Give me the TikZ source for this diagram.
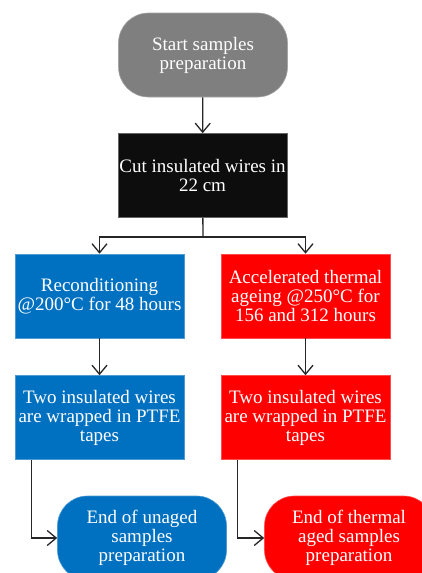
\documentclass[tikz,border=0pt]{standalone}
\usepackage{fontspec}
\setmainfont{Liberation Serif}
\usetikzlibrary{arrows.meta}

\definecolor{startgray}{HTML}{7F7F7F}
\definecolor{cutblack}{HTML}{0D0D0D}
\definecolor{unagedblue}{HTML}{0070C0}
\definecolor{agedred}{HTML}{FF0000}

\begin{document}
\begin{tikzpicture}[x=1pt, y=-1pt,
  box/.style={rectangle, minimum width=169pt, minimum height=84pt, inner sep=0pt,
    align=center, text=white, line width=0.6pt,
    font=\fontsize{19}{19}\selectfont},
  pill/.style={box, rounded corners=30pt},
  arr/.style={-{Straight Barb[length=9pt,width=15pt]}, line width=1.3pt, draw=black!85}]
\useasboundingbox (0,0) rectangle (422,573);
\clip (0,0) rectangle (422,573);
\node[pill, fill=startgray, draw=startgray!70!white] (start) at (203,55) {Start samples\\preparation};
\node[box, fill=cutblack, draw=black!60] (cut) at (202.5,175.5) {Cut insulated wires in\\22 cm};
\node[box, fill=unagedblue, draw=unagedblue!70!white] (recond) at (99.5,296) {Reconditioning\\@200°C for 48 hours};
\node[box, fill=agedred, draw=agedred!70!white] (accel) at (305.5,296) {Accelerated thermal\\ageing @250°C for\\156 and 312 hours};
\node[box, fill=unagedblue, draw=unagedblue!70!white] (wrapL) at (99.5,417.5) {Two insulated wires\\are wrapped in PTFE\\tapes};
\node[box, fill=agedred, draw=agedred!70!white] (wrapR) at (305.5,417.5) {Two insulated wires\\are wrapped in PTFE\\tapes};
\node[pill, fill=unagedblue, draw=unagedblue!70!white] (endL) at (142,538) {End of unaged\\samples\\preparation};
\node[pill, fill=agedred, draw=agedred!70!white] (endR) at (349,538) {End of thermal\\aged samples\\preparation};
\coordinate (split) at (203,237);
\draw[arr] (start) -- (cut);
\draw[line width=1.3pt, draw=black!85] (cut) -- (split);
\draw[arr] (split) -| (recond);
\draw[arr] (split) -| (accel);
\draw[arr] (recond) -- (wrapL);
\draw[arr] (accel) -- (wrapR);
\draw[arr] ([xshift=17pt]wrapL.south west) |- (endL.west);
\draw[arr] ([xshift=17pt]wrapR.south west) |- (endR.west);
\end{tikzpicture}
\end{document}
